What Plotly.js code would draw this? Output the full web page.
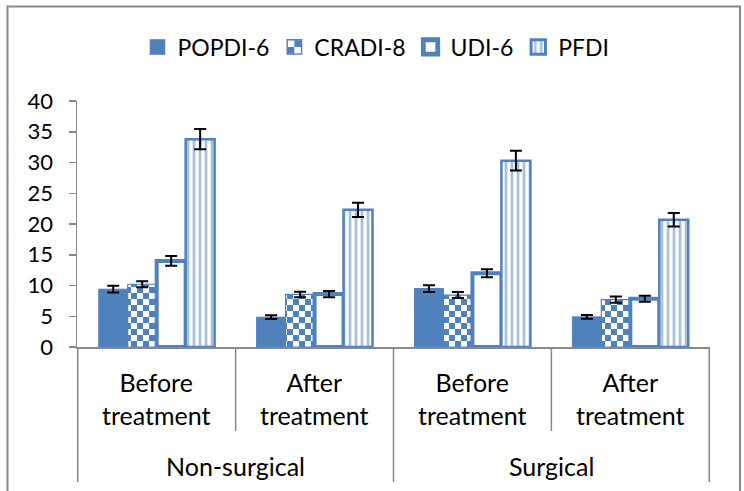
<!DOCTYPE html>
<html>
<head>
<meta charset="utf-8">
<script src="https://cdn.plot.ly/plotly-3.0.1.min.js"></script>
<style>
  html, body { margin: 0; padding: 0; background: #fff; }
  #chart { width: 744px; height: 491px; }
</style>
</head>
<body>
<div id="chart"></div>
<script>
// ---- data ----
const groups = ["Non-surgical", "Non-surgical", "Surgical", "Surgical"];
const phases = ["Before treatment", "After treatment", "Before treatment", "After treatment"];
const seriesNames = ["POPDI-6", "CRADI-8", "UDI-6", "PFDI"];
const popdi = [9.4, 4.85, 9.5, 4.9];
const popdiErr = [0.55, 0.3, 0.55, 0.3];
const cradi = [10.2, 8.55, 8.45, 7.7];
const cradiErr = [0.5, 0.45, 0.5, 0.5];
const udi = [14.0, 8.6, 12.0, 7.85];
const udiErr = [0.8, 0.5, 0.65, 0.5];
const pfdi = [33.8, 22.3, 30.3, 20.7];
const pfdiErr = [1.65, 1.15, 1.6, 1.1];
const yTicks = [0, 5, 10, 15, 20, 25, 30, 35, 40];

// ---- styling ----
const BLUE = "#4F81BD";
const GRAY = "#898989";
const FONT = "Lato, 'Open Sans', sans-serif";
const xCats = [groups, phases];

function errBar(arr) {
  return { type: "data", array: arr, visible: true, color: "#000", thickness: 2, width: 6 };
}

const traces = [
  { type: "bar", name: seriesNames[0], x: xCats, y: popdi, error_y: errBar(popdiErr),
    marker: { color: BLUE, line: { color: BLUE, width: 1 } } },
  { type: "bar", name: seriesNames[1], x: xCats, y: cradi, error_y: errBar(cradiErr),
    marker: { color: BLUE, line: { color: BLUE, width: 1.2 } } },
  { type: "bar", name: seriesNames[2], x: xCats, y: udi, error_y: errBar(udiErr), cliponaxis: false,
    marker: { color: "#fff", line: { color: BLUE, width: 4 } } },
  { type: "bar", name: seriesNames[3], x: xCats, y: pfdi, error_y: errBar(pfdiErr),
    marker: { color: "#fff", line: { color: BLUE, width: 2.5 },
      pattern: { shape: "|", fgcolor: BLUE, bgcolor: "#fff", size: 6, solidity: 0.45, fillmode: "overlay" } } }
];

// plot-area geometry helpers (paper fractions)
const L = 77, R = 34, T = 101, B = 144, W = 744, H = 491;
const pw = W - L - R, ph = H - T - B;
const py = px => (H - B - px) / ph;   // pixel y -> paper y
const pxX = px => (px - L) / pw;      // pixel x -> paper x

const n = phases.length;
const shapes = [];
for (let i = 0; i <= n; i++) {
  const outer = (i === 0 || i === n || groups[i] !== groups[i - 1]);
  shapes.push({ type: "line", xref: "x", yref: "paper", x0: i - 0.5, x1: i - 0.5,
    y0: 0, y1: py(outer ? 482 : 431), line: { color: GRAY, width: 1.5 } });
}
// outer chart frame
shapes.push({ type: "rect", xref: "paper", yref: "paper",
  x0: pxX(7.5), x1: pxX(740), y0: py(500), y1: py(6.5),
  line: { color: GRAY, width: 2 } });

const annotations = [];
phases.forEach((p, i) => {
  annotations.push({ xref: "x", yref: "paper", x: i, y: py(398.5), yanchor: "middle",
    text: p.replace(" ", "<br>"), showarrow: false, font: { family: FONT, size: 25, color: "#000" } });
});
const uniqueGroups = [...new Set(groups)];
uniqueGroups.forEach(g => {
  const idx = groups.map((v, i) => v === g ? i : -1).filter(i => i >= 0);
  const mid = (idx[0] + idx[idx.length - 1]) / 2;
  annotations.push({ xref: "x", yref: "paper", x: mid, y: py(466), yanchor: "middle",
    text: g, showarrow: false, font: { family: FONT, size: 25, color: "#000" } });
});

const layout = {
  width: W, height: H,
  margin: { l: L, r: R, t: T, b: B, pad: 0 },
  paper_bgcolor: "#fff", plot_bgcolor: "#fff",
  font: { family: FONT, color: "#000" },
  barmode: "group", bargap: 0.266, bargroupgap: 0,
  showlegend: true,
  legend: { orientation: "h", x: pxX(376), xanchor: "center", y: py(47), yanchor: "middle",
    font: { family: FONT, size: 23, color: "#000" }, itemwidth: 30, traceorder: "normal" },
  xaxis: { type: "multicategory", showticklabels: false, ticks: "", showdividers: false,
    showline: true, linecolor: GRAY, linewidth: 1.5, showgrid: false, zeroline: false, fixedrange: true },
  yaxis: { range: [0, 40], tickvals: yTicks, ticktext: yTicks.map(String), ticks: "outside", ticklen: 7,
    tickcolor: GRAY, tickwidth: 1.5, showline: true, linecolor: GRAY, linewidth: 1.5,
    showgrid: false, zeroline: false, ticklabelstandoff: 11,
    tickfont: { family: FONT, size: 22, color: "#000" } },
  shapes: shapes,
  annotations: annotations
};

Plotly.newPlot("chart", traces, layout, { staticPlot: true, displayModeBar: false }).then(gd => {
  // checkerboard fill for CRADI-8
  const svg = gd.querySelector("svg.main-svg");
  const ns = "http://www.w3.org/2000/svg";
  let defs = svg.querySelector("defs");
  if (!defs) { defs = document.createElementNS(ns, "defs"); svg.insertBefore(defs, svg.firstChild); }
  const pat = document.createElementNS(ns, "pattern");
  pat.setAttribute("id", "checker");
  pat.setAttribute("patternUnits", "userSpaceOnUse");
  pat.setAttribute("width", "12"); pat.setAttribute("height", "12");
  const cells = [[0, 0, 12, 12, BLUE], [0, 0, 6, 6, "#fff"], [6, 6, 6, 6, "#fff"]];
  cells.forEach(c => {
    const r = document.createElementNS(ns, "rect");
    r.setAttribute("x", c[0]); r.setAttribute("y", c[1]);
    r.setAttribute("width", c[2]); r.setAttribute("height", c[3]);
    r.setAttribute("fill", c[4]);
    pat.appendChild(r);
  });
  defs.appendChild(pat);
  const barTraces = gd.querySelectorAll(".barlayer .trace");
  if (barTraces[1]) barTraces[1].querySelectorAll(".point path").forEach(p => { p.style.fill = "url(#checker)"; });
  const legTraces = gd.querySelectorAll(".legend .traces");
  legTraces.forEach((t, i) => {
    t.querySelectorAll(".legendpoints path").forEach(p => {
      const tr = p.getAttribute("transform") || "";
      p.setAttribute("transform", (tr + " scale(1.2)").trim());
      if (i === 1) p.style.fill = "url(#checker)";
    });
  });
});
</script>
</body>
</html>
